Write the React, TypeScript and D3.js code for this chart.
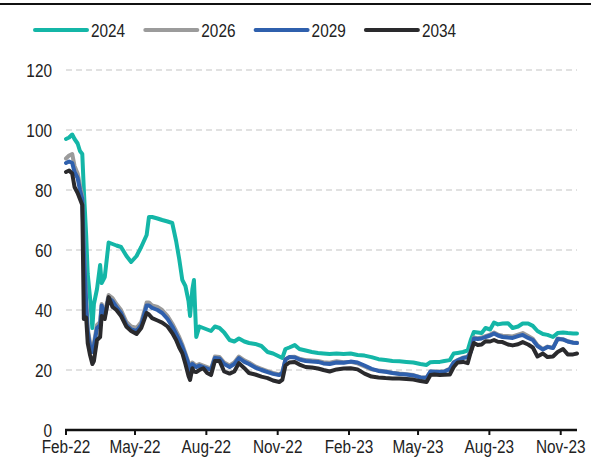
import React from 'react';
import * as d3 from 'd3';

const dates = [
  '2022-02-01', '2022-02-05', '2022-02-09', '2022-02-12', '2022-02-16', '2022-02-19', '2022-02-22', '2022-02-24',
  '2022-02-27', '2022-03-01', '2022-03-04', '2022-03-07', '2022-03-09', '2022-03-13', '2022-03-17', '2022-03-19',
  '2022-03-23', '2022-03-28', '2022-04-02', '2022-04-07', '2022-04-13', '2022-04-20', '2022-04-26', '2022-05-03',
  '2022-05-09', '2022-05-16', '2022-05-19', '2022-05-23', '2022-05-30', '2022-06-05', '2022-06-12', '2022-06-18',
  '2022-06-23', '2022-06-27', '2022-07-01', '2022-07-05', '2022-07-09', '2022-07-11', '2022-07-14', '2022-07-16',
  '2022-07-19', '2022-07-23', '2022-07-28', '2022-08-02', '2022-08-07', '2022-08-12', '2022-08-18', '2022-08-24',
  '2022-08-31', '2022-09-06', '2022-09-12', '2022-09-19', '2022-09-25', '2022-10-03', '2022-10-11', '2022-10-19',
  '2022-10-26', '2022-11-03', '2022-11-07', '2022-11-11', '2022-11-16', '2022-11-23', '2022-11-29', '2022-12-07',
  '2022-12-15', '2022-12-23', '2022-12-30', '2023-01-07', '2023-01-16', '2023-01-25', '2023-02-03', '2023-02-12',
  '2023-02-21', '2023-03-02', '2023-03-11', '2023-03-20', '2023-03-29', '2023-04-07', '2023-04-16', '2023-04-25',
  '2023-05-04', '2023-05-12', '2023-05-17', '2023-05-22', '2023-05-29', '2023-06-04', '2023-06-11', '2023-06-16',
  '2023-06-21', '2023-06-28', '2023-07-04', '2023-07-08', '2023-07-12', '2023-07-17', '2023-07-22', '2023-07-27',
  '2023-08-02', '2023-08-07', '2023-08-12', '2023-08-18', '2023-08-25', '2023-08-31', '2023-09-07', '2023-09-13',
  '2023-09-20', '2023-09-26', '2023-10-02', '2023-10-09', '2023-10-15', '2023-10-22', '2023-10-28', '2023-11-04',
  '2023-11-10', '2023-11-17', '2023-11-22',
];

const y2024 = [
  97, 97.5, 98.5, 97, 95.5, 93, 92, 80, 65, 52, 44, 34, 42, 47, 55, 49,
  51, 62.5, 62, 61.5, 61, 58, 56, 58, 61, 65, 71, 71, 70.5, 70, 69.5, 69,
  63, 57, 50, 48, 43, 38, 47, 50, 31, 34.5, 34, 33.5, 33, 34.5, 34, 32.5,
  30, 29.5, 30.5, 29.5, 29, 28.7, 28, 26, 25.5, 24.5, 24, 27, 27.5, 28.3, 27, 26.5,
  26, 25.7, 25.5, 25.3, 25.5, 25.3, 25.5, 25, 24.8, 24.3, 23.6, 23.3, 23, 22.9, 22.7, 22.5,
  22, 21.7, 22.6, 22.7, 22.7, 23, 23.3, 25.5, 25.7, 26, 26.5, 30, 32.7, 32.5, 32.3, 34,
  33.5, 35.8, 35.2, 35.5, 35.6, 34, 34.5, 35.5, 35.5, 34.7, 33, 32, 31.7, 31, 32.3, 32.5,
  32.3, 32.2, 32.2,
];

const y2026 = [
  90.5, 91.5, 92, 88, 85.5, 81.5, 78, 61, 43, 34, 29, 27, 29, 35, 36, 42,
  39, 45, 44, 42, 40, 36, 34.5, 34, 36, 42.5, 42.5, 41.5, 41, 40, 38, 35.5,
  33, 31, 28.5, 25.5, 22.5, 20.5, 22.5, 22, 21.5, 22, 21.5, 21, 20.5, 24.5, 24.3, 22.5,
  21.5, 22.5, 24.5, 23.2, 22.5, 21.2, 20.4, 19.6, 19, 18.5, 19.2, 23.6, 24.3, 24.4, 23.8, 23.3,
  23.2, 23, 22.6, 22.4, 22.9, 22.6, 22.7, 22.2, 21.2, 20.2, 19.8, 19.5, 19.1, 18.8, 18.6, 18.3,
  17.6, 17.5, 19.5, 19.5, 19.4, 19.6, 20.5, 22.6, 23.3, 24.1, 24.4, 26.2, 30.8, 30.6, 30.8, 31.3,
  31.8, 32.5, 31.8, 31.4, 31.3, 31.2, 31.8, 32.3, 31.3, 30.4, 28.3, 27, 27.8, 27.4, 30.5, 30.2,
  29.6, 29.2, 29.1,
];

const y2029 = [
  89, 89.5, 89, 86, 84, 80, 77, 60, 42, 33, 28, 26, 28, 34, 35, 41.5,
  38, 44, 43, 41, 39, 35, 33.5, 33, 35, 41.5, 41.5, 40.7, 40, 39, 37, 34.5,
  32, 30, 27.7, 25, 22, 20, 22, 21.5, 21, 21.5, 21, 20.5, 20, 24, 23.8, 22,
  21, 22, 24, 22.7, 22, 20.8, 20, 19.3, 18.7, 18.3, 19, 23.5, 24.3, 24.2, 23.5, 23,
  22.8, 22.7, 22.2, 22, 22.5, 22.4, 22.8, 22.5, 21.5, 20.4, 19.7, 19.4, 19, 18.7, 18.5, 18.2,
  17.5, 17.4, 19.5, 19.4, 19.3, 19.5, 20.3, 22.5, 23.2, 24, 24.3, 26, 30.5, 30.3, 30.5, 31,
  31.5, 32.2, 31.5, 31, 30.8, 30.7, 31.3, 31.7, 30.7, 30, 28, 26.8, 27.7, 27.3, 30.3, 30.2,
  29.5, 29.1, 29,
];

const y2034 = [
  86, 86.5, 85.5, 81, 79, 77, 75, 37, 37.5, 29, 25, 22, 23, 30, 31, 38,
  37, 44.3, 41, 40, 38, 34.4, 33, 32, 34, 39, 38.5, 37.3, 36.5, 35.8, 34.5, 32.3,
  30, 27.5, 25.6, 22, 18, 16.7, 20.6, 19.5, 19.3, 20, 20.6, 19, 18.3, 23, 23, 19.5,
  18.8, 19.5, 22.3, 20.6, 19, 18.5, 17.8, 17.3, 16.5, 16, 16.7, 21.5, 22.5, 22.7, 21.8, 21,
  20.8, 20.5, 20, 19.5, 20.2, 20.5, 20.6, 20.2, 18.8, 17.8, 17.5, 17.3, 17.2, 17.2, 17, 16.8,
  16.3, 16, 18.3, 18.5, 18.3, 18.4, 18.5, 21, 22.5, 22.7, 22.3, 26, 29, 28.3, 28.5, 29.6,
  29.5, 30, 29.4, 29.3, 28.5, 28.2, 28.6, 29.3, 28.5, 27.5, 24.5, 25.5, 24.3, 24.5, 26, 27,
  25.2, 25.2, 25.5,
];

const seriesNames = ['2024', '2026', '2029', '2034'];
const seriesColors = ['#14b6a7', '#9b9b9b', '#2f60ad', '#2a2a2d'];
const seriesValues = [y2024, y2026, y2029, y2034];
const yTicks = [0, 20, 40, 60, 80, 100, 120];
const xTickDates = ['2022-02-01', '2022-05-01', '2022-08-01', '2022-11-01', '2023-02-01', '2023-05-01', '2023-08-01', '2023-11-01'];

const W = 591;
const H = 458;
const FONT = '"Liberation Sans", Arial, sans-serif';
const FS = 18.5;
const SX = 0.83; // squeeze to look like a narrow face

function T({ x, y, anchor = 'start', children }: { x: number; y: number; anchor?: string; children: any }) {
  return (
    <text transform={`translate(${x},${y}) scale(${SX},1)`} textAnchor={anchor}
      fontSize={FS} fill="#222">{children}</text>
  );
}

export default function App() {
  const parse = d3.utcParse('%Y-%m-%d');
  const fmt = d3.utcFormat('%b-%y');
  const xs = dates.map((d) => parse(d) as Date);

  const x = d3.scaleUtc()
    .domain([parse('2022-02-01') as Date, parse('2023-11-22') as Date])
    .range([66, 577]);
  const y = d3.scaleLinear().domain([0, 120]).range([430, 70]);

  const line = d3.line<number>()
    .x((_, i) => x(xs[i]))
    .y((v) => y(v));

  return (
    <svg width={W} height={H} style={{ position: 'absolute', left: 0, top: 0, background: '#fff' }}
      fontFamily={FONT}>
      <line x1={0} x2={W} y1={4} y2={4} stroke="#111" strokeWidth={2} />

      {/* legend */}
      {seriesNames.map((name, i) => {
        const lx = 35 + i * 110.3;
        return (
          <g key={name}>
            <line x1={lx} x2={lx + 52} y1={30} y2={30} stroke={seriesColors[i]}
              strokeWidth={4} strokeLinecap="round" />
            <T x={lx + 56} y={36.5}>{name}</T>
          </g>
        );
      })}

      {/* grid */}
      {yTicks.filter((t) => t > 0).map((t) => (
        <line key={t} x1={66} x2={577} y1={y(t)} y2={y(t)} stroke="#c4c4c4"
          strokeWidth={1.2} strokeDasharray="6,4" />
      ))}
      {yTicks.map((t) => (
        <T key={t} x={52} y={y(t) + 6.5} anchor="end">{t}</T>
      ))}

      {/* series */}
      {seriesValues.map((vals, i) => (
        <path key={seriesNames[i]} d={line(vals) || ''} fill="none" stroke={seriesColors[i]}
          strokeWidth={4} strokeLinejoin="round" strokeLinecap="round" />
      ))}

      {/* x axis */}
      <line x1={65} x2={577} y1={430} y2={430} stroke="#111" strokeWidth={2.5} />
      {xTickDates.map((d) => {
        const dt = parse(d) as Date;
        return (
          <g key={d}>
            <line x1={x(dt)} x2={x(dt)} y1={430} y2={435} stroke="#111" strokeWidth={2} />
            <T x={x(dt)} y={453} anchor="middle">{fmt(dt)}</T>
          </g>
        );
      })}
    </svg>
  );
}
